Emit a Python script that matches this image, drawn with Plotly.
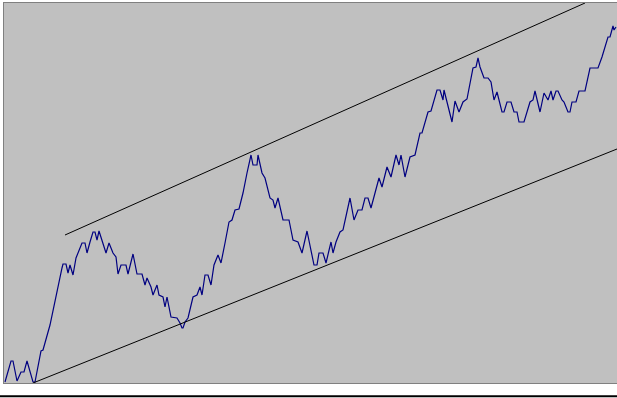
import plotly.graph_objects as go

# Series (time index, value)
t = [5, 11, 13, 17, 21, 24, 27, 33, 35, 41, 43, 50, 62, 63, 66, 68, 70, 73, 76, 78,
     82, 85, 87, 90, 93, 95, 97, 99, 103, 106, 109, 113, 116, 118, 121, 126, 128, 133, 137, 142,
     145, 147, 151, 153, 157, 159, 163, 165, 167, 171, 177, 180, 182, 183, 185, 188, 193, 197, 200, 202,
     205, 208, 211, 214, 218, 221, 225, 229, 232, 235, 239, 243, 247, 251, 253, 257, 258, 262, 265, 270,
     273, 275, 278, 283, 289, 293, 298, 302, 307, 314, 317, 319, 323, 326, 331, 333, 336, 340, 343, 350,
     354, 358, 362, 365, 368, 371, 379, 382, 387, 391, 396, 399, 401, 405, 410, 415, 420, 422, 428, 431,
     437, 440, 443, 444, 452, 455, 459, 463, 467, 473, 476, 478, 480, 484, 488, 491, 494, 497, 502, 504,
     507, 511, 514, 517, 519, 524, 530, 533, 535, 540, 544, 548, 551, 553, 556, 558, 562, 564, 568, 570,
     572, 576, 579, 585, 590, 598, 602, 605, 608, 610, 613, 614, 616]
values = [1, 22, 22, 2, 11, 11, 22, 1, 1, 32, 33, 58, 115, 119, 119, 110, 118, 108, 125, 130,
          140, 140, 130, 141, 151, 151, 143, 152, 138, 130, 140, 130, 126, 109, 118, 118, 109, 129, 109, 109,
          98, 105, 96, 88, 98, 88, 86, 76, 86, 66, 65, 60, 55, 55, 61, 65, 86, 88, 96, 88,
          108, 108, 98, 118, 128, 120, 140, 161, 163, 173, 174, 190, 210, 228, 218, 218, 228, 210, 205, 185,
          183, 175, 185, 163, 163, 143, 141, 130, 152, 118, 118, 130, 130, 120, 141, 130, 141, 151, 153, 185,
          163, 173, 173, 185, 185, 175, 205, 196, 216, 206, 228, 218, 228, 206, 226, 228, 250, 250, 271, 272,
          293, 293, 283, 293, 261, 282, 271, 281, 284, 315, 316, 325, 316, 305, 305, 301, 283, 291, 271, 271,
          281, 281, 271, 271, 261, 261, 281, 283, 292, 271, 290, 283, 292, 283, 292, 292, 283, 281, 271, 271,
          281, 281, 292, 292, 315, 315, 326, 335, 346, 346, 357, 353, 356]

# Channel lines (endpoints)
upper_t = [65, 585]
upper_v = [148, 380]
lower_t = [33, 617]
lower_v = [0, 234]

fig = go.Figure()
fig.add_trace(go.Scatter(x=t, y=values, mode="lines",
                         line=dict(color="#000080", width=1.2), hoverinfo="skip"))
fig.add_trace(go.Scatter(x=upper_t, y=upper_v, mode="lines",
                         line=dict(color="#000000", width=1), hoverinfo="skip"))
fig.add_trace(go.Scatter(x=lower_t, y=lower_v, mode="lines",
                         line=dict(color="#000000", width=1), hoverinfo="skip"))

fig.update_layout(
    width=617, height=398, autosize=False,
    margin=dict(l=4, r=0, t=3, b=15, pad=0),
    paper_bgcolor="#FFFFFF", plot_bgcolor="#C0C0C0",
    showlegend=False,
    xaxis=dict(range=[4, 617], showgrid=False, zeroline=False, showticklabels=False,
               ticks="", showline=True, mirror=True, linecolor="#808080", linewidth=1),
    yaxis=dict(range=[0, 380], showgrid=False, zeroline=False, showticklabels=False,
               ticks="", showline=True, linecolor="#808080", linewidth=1),
    shapes=[dict(type="line", xref="paper", yref="paper",
                 x0=-0.01, x1=1.01, y0=-0.035, y1=-0.035,
                 line=dict(color="#000000", width=2))],
)

fig.write_html("out.html")
